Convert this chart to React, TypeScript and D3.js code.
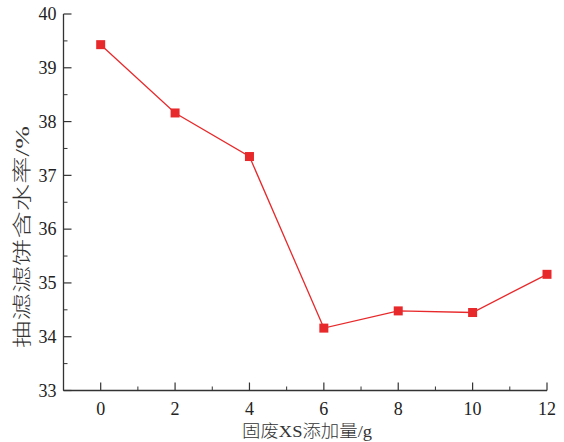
import * as d3 from "d3";

const doses = [0, 2, 4, 6, 8, 10, 12];
const moisture = [39.43, 38.16, 37.35, 34.16, 34.48, 34.45, 35.16];
const xTicks = [0, 2, 4, 6, 8, 10, 12];
const xMinor = [-1, 1, 3, 5, 7, 9, 11];
const yTicks = [33, 34, 35, 36, 37, 38, 39, 40];
const yMinor = [33.5, 34.5, 35.5, 36.5, 37.5, 38.5, 39.5];
const xTitle = "固废XS添加量/g";
const yTitle = "抽滤滤饼含水率/%";

const W = 564;
const H = 442;
const font = "'Liberation Serif', 'Noto Sans CJK SC', serif";
const axisColor = "#333";
const red = "#e8292b";

const App = () => {
  const x = d3.scaleLinear().domain([-1, 12]).range([63.5, 547]);
  const y = d3.scaleLinear().domain([33, 40]).range([390.5, 14]);

  const line = d3
    .line<number>()
    .x((_, i) => x(doses[i]))
    .y((d) => y(d));

  return (
    <svg
      width={W}
      height={H}
      viewBox={`0 0 ${W} ${H}`}
      style={{ position: "absolute", left: 0, top: 0, background: "#fff" }}
    >
      {/* axes */}
      <line x1={x(-1)} x2={x(-1)} y1={y(40)} y2={y(33)} stroke={axisColor} strokeWidth={1.3} />
      <line x1={x(-1)} x2={x(12)} y1={y(33)} y2={y(33)} stroke={axisColor} strokeWidth={1.3} />

      {yTicks.map((t) => (
        <g key={"y" + t}>
          <line x1={x(-1)} x2={x(-1) + 8} y1={y(t)} y2={y(t)} stroke={axisColor} strokeWidth={1.2} />
          <text
            x={x(-1) - 7}
            y={y(t)}
            dy="0.35em"
            textAnchor="end"
            fontFamily={font}
            fontSize={18}
            fill="#222"
          >
            {t}
          </text>
        </g>
      ))}
      {yMinor.map((t) => (
        <line key={"ym" + t} x1={x(-1)} x2={x(-1) + 4} y1={y(t)} y2={y(t)} stroke={axisColor} strokeWidth={1} />
      ))}

      {xTicks.map((t) => (
        <g key={"x" + t}>
          <line x1={x(t)} x2={x(t)} y1={y(33)} y2={y(33) - 8} stroke={axisColor} strokeWidth={1.2} />
          <text
            x={x(t)}
            y={y(33) + 24}
            textAnchor="middle"
            fontFamily={font}
            fontSize={18}
            fill="#222"
          >
            {t}
          </text>
        </g>
      ))}
      {xMinor.map((t) => (
        <line key={"xm" + t} x1={x(t)} x2={x(t)} y1={y(33)} y2={y(33) - 4} stroke={axisColor} strokeWidth={1} />
      ))}

      {/* series */}
      <path d={line(moisture) ?? ""} fill="none" stroke={red} strokeWidth={1.3} />
      {moisture.map((v, i) => (
        <rect
          key={i}
          x={x(doses[i]) - 4.5}
          y={y(v) - 4.5}
          width={9}
          height={9}
          fill={red}
        />
      ))}

      {/* titles */}
      <text
        x={307}
        y={437}
        textAnchor="middle"
        fontFamily={font}
        fontSize={17}
        fontWeight={300}
        textLength={130}
        lengthAdjust="spacingAndGlyphs"
        fill="#333"
      >
        {xTitle}
      </text>
      <text
        transform={`translate(29, 237) rotate(-90)`}
        textAnchor="middle"
        fontFamily={font}
        fontSize={19}
        fontWeight={300}
        textLength={222}
        lengthAdjust="spacingAndGlyphs"
        fill="#333"
      >
        {yTitle}
      </text>
    </svg>
  );
};

export default App;
